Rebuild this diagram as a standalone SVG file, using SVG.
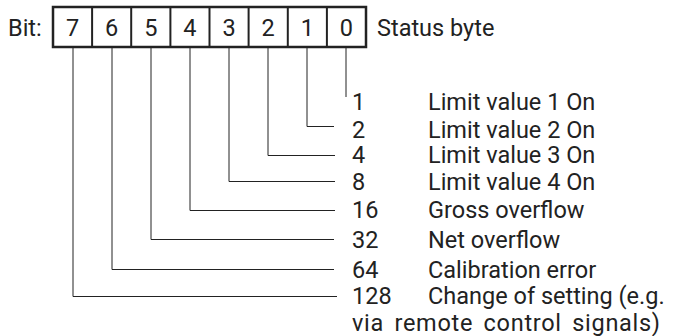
<svg xmlns="http://www.w3.org/2000/svg" width="676" height="336" viewBox="0 0 676 336">
<style>
text{font-family:Roboto,"Liberation Sans",sans-serif;font-size:23.5px;fill:#222}
.d{text-anchor:middle}
.box{fill:#fff;stroke:#222;stroke-width:2.5}
.div{stroke:#222;stroke-width:2}
.v{fill:none;stroke:#222;stroke-width:1}
</style>
<rect width="676" height="336" fill="#fff"/>
<g id="header">
<text x="8" y="36">Bit:</text>
<text x="377" y="36">Status byte</text>
</g>
<g id="register">
<rect class="box" x="53" y="7" width="313" height="40"/>
<line class="div" x1="92.1" y1="7" x2="92.1" y2="47"/>
<line class="div" x1="131.2" y1="7" x2="131.2" y2="47"/>
<line class="div" x1="170.4" y1="7" x2="170.4" y2="47"/>
<line class="div" x1="209.5" y1="7" x2="209.5" y2="47"/>
<line class="div" x1="248.6" y1="7" x2="248.6" y2="47"/>
<line class="div" x1="287.8" y1="7" x2="287.8" y2="47"/>
<line class="div" x1="326.9" y1="7" x2="326.9" y2="47"/>
<text class="d" x="72.6" y="36">7</text>
<text class="d" x="111.7" y="36">6</text>
<text class="d" x="150.8" y="36">5</text>
<text class="d" x="189.9" y="36">4</text>
<text class="d" x="229" y="36">3</text>
<text class="d" x="268.2" y="36">2</text>
<text class="d" x="307.3" y="36">1</text>
<text class="d" x="346.4" y="36">0</text>
</g>
<g id="connectors">
<polyline class="v" points="346,48 346,97"/>
<polyline class="v" points="307,48 307,126.5 334,126.5"/>
<polyline class="v" points="268,48 268,155.5 335,155.5"/>
<polyline class="v" points="229,48 229,181.5 335,181.5"/>
<polyline class="v" points="190,48 190,210.5 335,210.5"/>
<polyline class="v" points="151,48 151,239.5 334,239.5"/>
<polyline class="v" points="112,48 112,269.5 334,269.5"/>
<polyline class="v" points="73,48 73,296.5 337,296.5"/>
</g>
<g id="legend">
<text x="352" y="109.5">1</text><text x="428" y="109.5">Limit value 1 On</text>
<text x="352" y="137.5">2</text><text x="428" y="137.5">Limit value 2 On</text>
<text x="352" y="163">4</text><text x="428" y="163">Limit value 3 On</text>
<text x="352" y="190">8</text><text x="428" y="190">Limit value 4 On</text>
<text x="352" y="218">16</text><text x="428" y="218">Gross overflow</text>
<text x="352" y="248">32</text><text x="428" y="248">Net overflow</text>
<text x="352" y="277.5">64</text><text x="428" y="277.5">Calibration error</text>
<text x="352" y="304">128</text><text x="428" y="304">Change of setting (e.g.</text>
<text x="352" y="331" letter-spacing="0.7" word-spacing="4">via remote control signals)</text>
</g>
</svg>
